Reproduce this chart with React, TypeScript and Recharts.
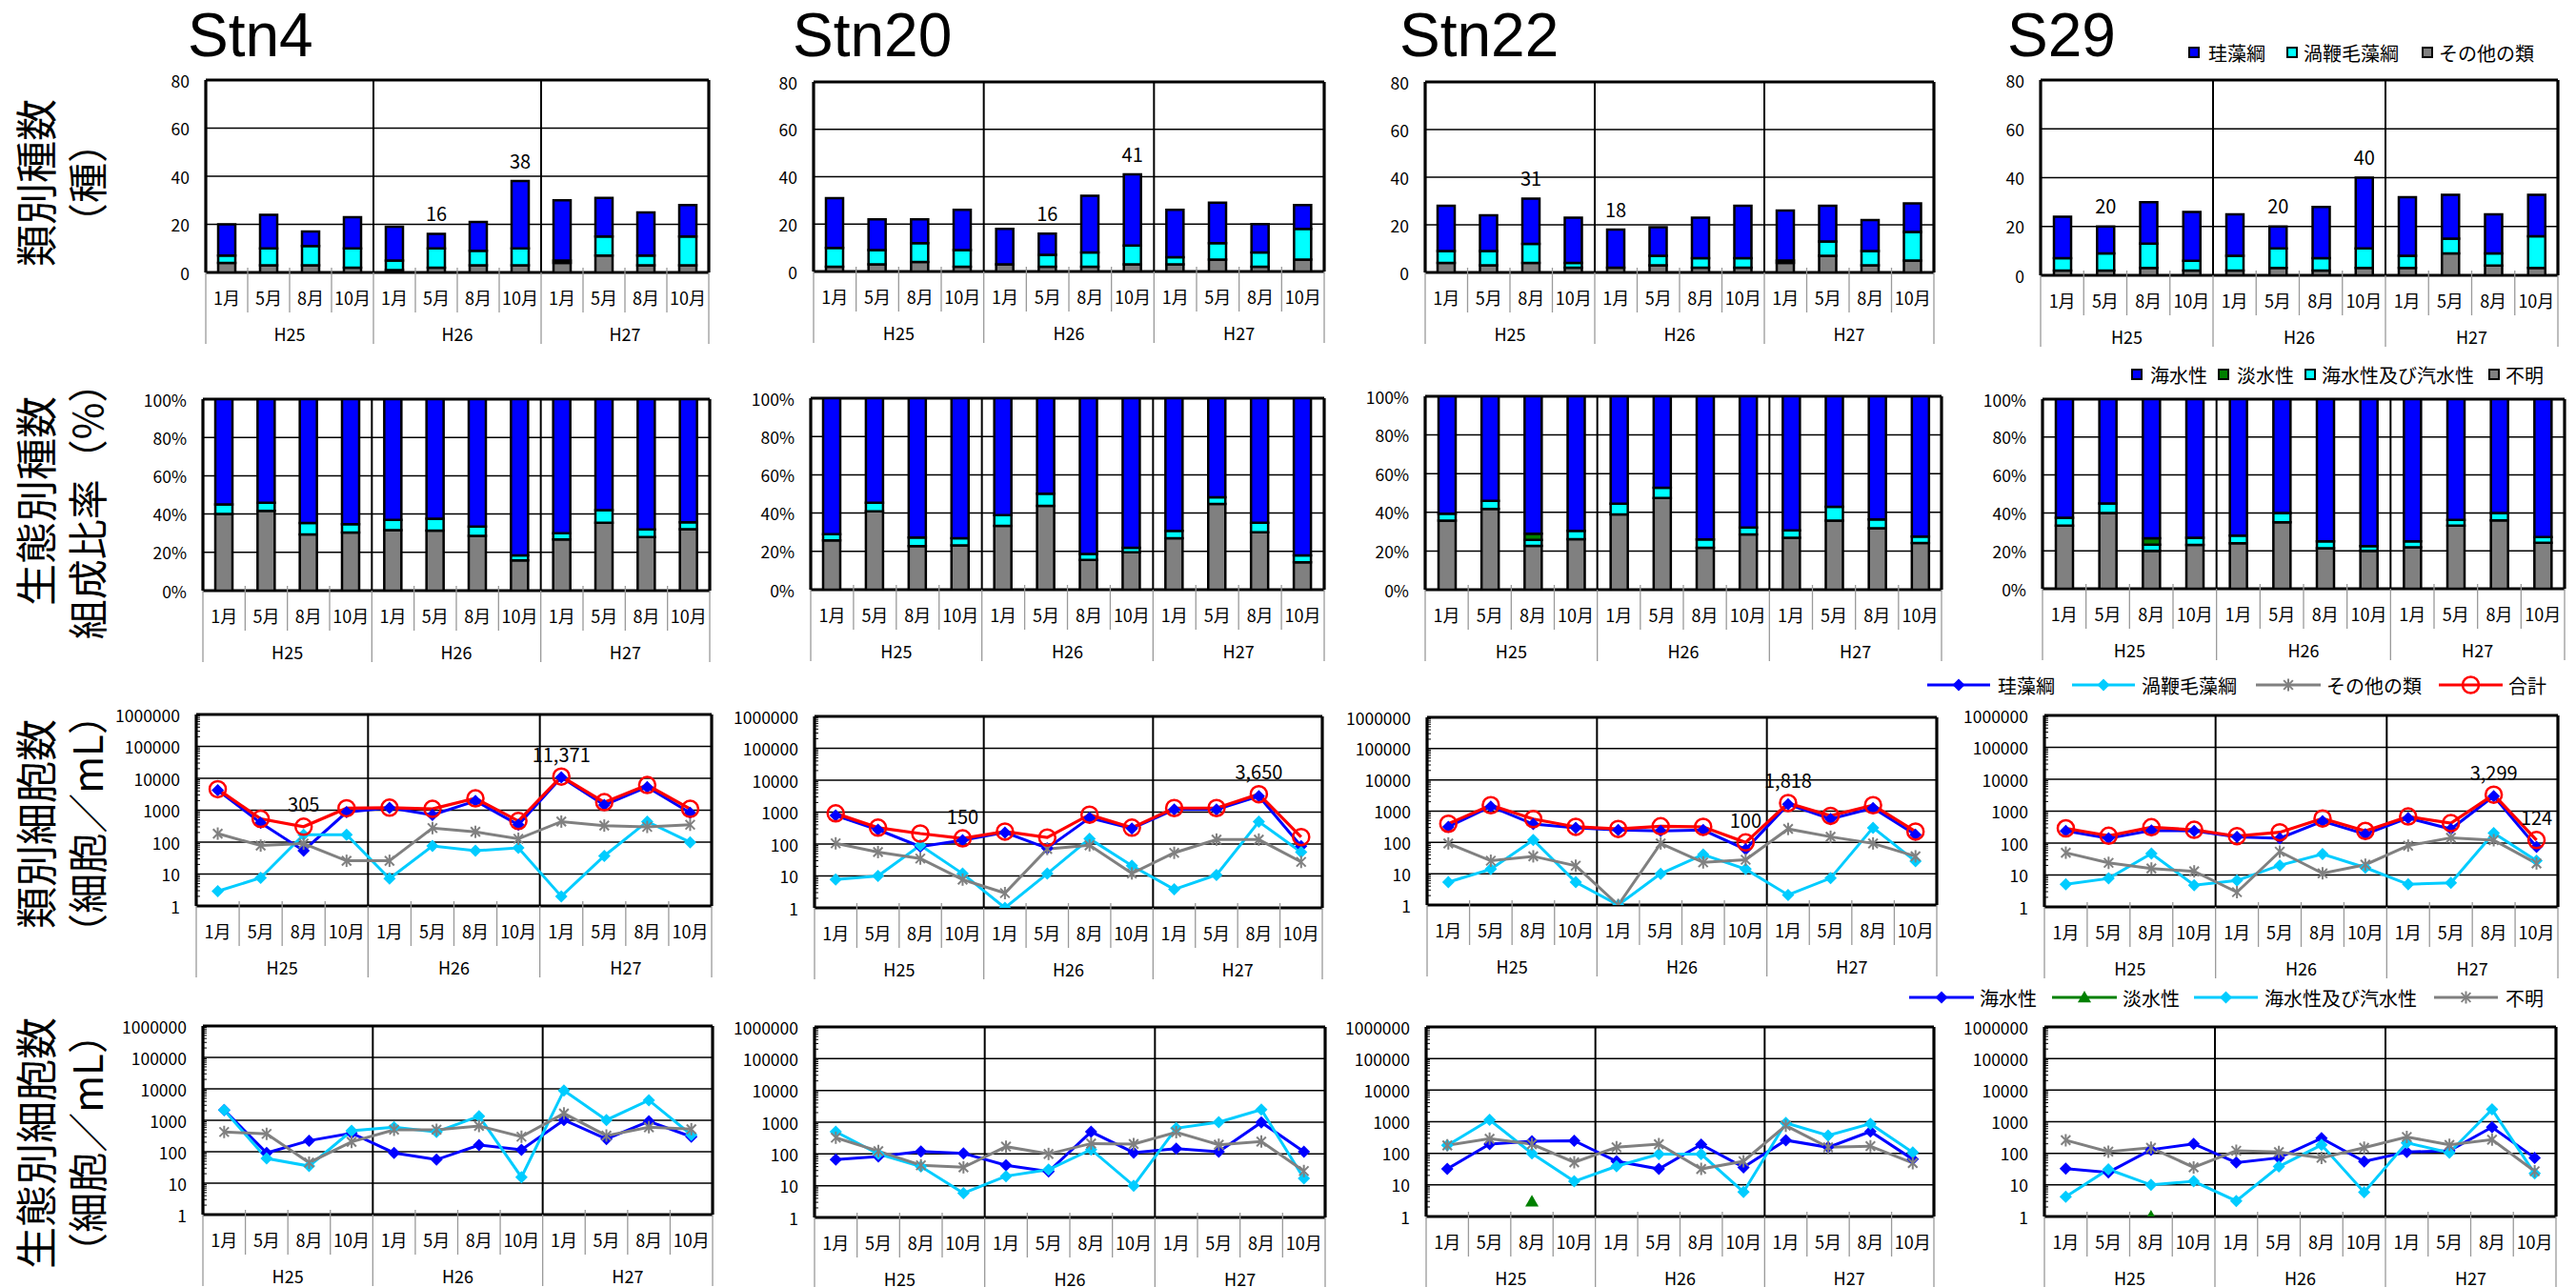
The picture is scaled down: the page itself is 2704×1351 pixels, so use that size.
import React from "react";
import { BarChart, Bar, LineChart, Line, XAxis, YAxis, CartesianGrid, LabelList } from "recharts";

// ---------------- categories & names ----------------
const MONTHS = ["1月", "5月", "8月", "10月"];
const YEARS = ["H25", "H26", "H27"];
const STATION_NAMES = ["Stn4", "Stn20", "Stn22", "S29"];
const SP_NAMES = ["珪藻綱", "渦鞭毛藻綱", "その他の類"];
const ECO_NAMES = ["海水性", "淡水性", "海水性及び汽水性", "不明"];
const CELL_NAMES = ["珪藻綱", "渦鞭毛藻綱", "その他の類", "合計"];
const ROW_TITLES = [
  ["類別種数", "（種）"],
  ["生態別種数", "組成比率（%）"],
  ["類別細胞数", "（細胞／mL）"],
  ["生態別細胞数", "（細胞／mL）"],
];
const SP_TICKS = [0, 20, 40, 60, 80];
const PC_TICKS = [0, 0.2, 0.4, 0.6, 0.8, 1];
const LOG_TICKS = [1, 10, 100, 1000, 10000, 100000, 1000000];

// ---------------- row 1: species counts (種) ----------------
const stn4SpDia = [13, 14, 6, 13, 14, 6, 12, 28, 25, 16, 18, 13];
const stn4SpDin = [3, 7, 8, 8, 4, 8, 6, 7, 1, 8, 4, 12];
const stn4SpOth = [4, 3, 3, 2, 1, 2, 3, 3, 4, 7, 3, 3];
const stn20SpDia = [21, 13, 10, 17, 15, 9, 24, 30, 20, 17, 12, 10];
const stn20SpDin = [8, 6, 8, 7, 0, 5, 6, 8, 3, 7, 6, 13];
const stn20SpOth = [2, 3, 4, 2, 3, 2, 2, 3, 3, 5, 2, 5];
const stn22SpDia = [19, 15, 19, 19, 16, 12, 17, 22, 21, 15, 13, 12];
const stn22SpDin = [5, 6, 8, 2, 0, 4, 4, 4, 1, 6, 6, 12];
const stn22SpOth = [4, 3, 4, 2, 2, 3, 2, 2, 4, 7, 3, 5];
const s29SpDia = [17, 11, 17, 20, 17, 9, 21, 29, 24, 18, 16, 17];
const s29SpDin = [5, 7, 10, 4, 6, 8, 5, 8, 5, 6, 5, 13];
const s29SpOth = [2, 2, 3, 2, 2, 3, 2, 3, 3, 9, 4, 3];
const stn4SpLabels = [5, 7];
const stn20SpLabels = [5, 7];
const stn22SpLabels = [2, 4];
const s29SpLabels = [1, 5, 7];

// ---------------- row 2: ecological composition (%) ----------------
const stn4PcMar = [55, 54.1, 64.7, 65.3, 63.1, 62.4, 66.6, 81.6, 70, 58, 68, 64.3];
const stn4PcFre = [0, 0, 0, 0, 0, 0, 0, 0, 0, 0, 0, 0];
const stn4PcBra = [5, 4.2, 5.9, 4.3, 5.3, 6.3, 4.8, 2.6, 3.3, 6.5, 4, 3.6];
const stn4PcUnk = [40, 41.7, 29.4, 30.4, 31.6, 31.3, 28.6, 15.8, 26.7, 35.5, 28, 32.1];
const stn20PcMar = [71, 54.6, 72.8, 73.1, 61.1, 49.9, 81.3, 78.1, 69.3, 51.8, 65, 82.1];
const stn20PcFre = [0, 0, 0, 0, 0, 0, 0, 0, 0, 0, 0, 0];
const stn20PcBra = [3.2, 4.5, 4.5, 3.8, 5.6, 6.3, 3.1, 2.4, 3.8, 3.4, 5, 3.6];
const stn20PcUnk = [25.8, 40.9, 22.7, 23.1, 33.3, 43.8, 15.6, 19.5, 26.9, 44.8, 30, 14.3];
const stn22PcMar = [60.7, 54.1, 71, 69.6, 55.5, 47.3, 74, 67.8, 69.3, 57.2, 63.7, 72.5];
const stn22PcFre = [0, 0, 3.2, 0, 0, 0, 0, 0, 0, 0, 0, 0];
const stn22PcBra = [3.6, 4.2, 3.2, 4.3, 5.6, 5.3, 4.3, 3.6, 3.8, 7.1, 4.5, 3.4];
const stn22PcUnk = [35.7, 41.7, 22.6, 26.1, 38.9, 47.4, 21.7, 28.6, 26.9, 35.7, 31.8, 24.1];
const s29PcMar = [62.5, 55, 73.4, 73.1, 72, 60, 75, 77.5, 75, 63.7, 60, 72.8];
const s29PcFre = [0, 0, 3.3, 0, 0, 0, 0, 0, 0, 0, 0, 0];
const s29PcBra = [4.2, 5, 3.3, 3.8, 4, 5, 3.6, 2.5, 3.1, 3, 4, 3];
const s29PcUnk = [33.3, 40, 20, 23.1, 24, 35, 21.4, 20, 21.9, 33.3, 36, 24.2];

// ---------------- row 3: cells by class (細胞/mL) ----------------
const stn4CellDia = [4200, 400, 54, 870, 1190, 710, 1950, 350, 10800, 1450, 5300, 830];
const stn4CellDin = [2.9, 7.6, 170, 170, 7.2, 76, 54, 66, 2.0, 37, 440, 99];
const stn4CellOth = [185, 78, 90, 26, 26, 275, 210, 127, 440, 330, 300, 350];
const stn4CellTot = [4570, 535, 305, 1150, 1200, 1100, 2350, 460, 11371, 1780, 6150, 1100];
const stn20CellDia = [780, 280, 83, 131, 230, 74, 660, 308, 1200, 1200, 3150, 86];
const stn20CellDin = [7.7, 10, 91, 11.8, 1, 11.8, 147, 21, 3.8, 10.8, 500, 56];
const stn20CellOth = [105, 56, 35, 7.7, 2.9, 70, 91, 12, 53, 138, 138, 27.5];
const stn20CellTot = [910, 325, 213, 150, 245, 160, 830, 325, 1340, 1340, 3650, 165];
const stn22CellDia = [315, 1400, 385, 295, 250, 235, 250, 60, 1650, 560, 1260, 175];
const stn22CellDin = [5.4, 14, 120, 5.4, 1, 10, 41, 14, 2.1, 7.2, 295, 25];
const stn22CellOth = [93, 26, 36, 18, 1, 93, 23, 28, 270, 152, 93, 36];
const stn22CellTot = [395, 1550, 560, 315, 270, 330, 315, 100, 1818, 710, 1550, 222];
const s29CellDia = [240, 142, 250, 240, 155, 142, 485, 190, 610, 275, 2930, 76];
const s29CellDin = [5.1, 7.8, 47, 4.8, 6.7, 20, 45, 17, 5.1, 5.7, 205, 28];
const s29CellOth = [50, 24, 16, 13, 2.9, 54, 11.3, 21, 83, 147, 123, 23];
const s29CellTot = [290, 170, 315, 260, 165, 218, 590, 240, 680, 420, 3299, 124];
const stn4CellLabels = [2, 8];
const stn20CellLabels = [3, 10];
const stn22CellLabels = [7, 8];
const s29CellLabels = [10, 11];

// ---------------- row 4: cells by ecology (細胞/mL) ----------------
const N = null;
const stn4EcoMar = [2100, 92, 225, 390, 92, 56, 163, 115, 1020, 253, 930, 300];
const stn4EcoFre = [N, N, N, N, N, N, N, N, N, N, N, N];
const stn4EcoBra = [2100, 61, 35, 465, 600, 425, 1350, 15.5, 8900, 1020, 4350, 345];
const stn4EcoUnk = [425, 370, 45, 206, 500, 500, 660, 300, 1650, 325, 600, 520];
const stn20EcoMar = [66, 83, 120, 104, 44, 28, 500, 110, 146, 117, 990, 117];
const stn20EcoFre = [N, N, N, N, N, N, N, N, N, N, N, N];
const stn20EcoBra = [500, 100, 40, 5.8, 20, 32, 138, 10, 645, 1000, 2500, 17];
const stn20EcoUnk = [325, 123, 44, 38, 170, 100, 213, 205, 485, 195, 245, 29];
const stn22EcoMar = [32, 195, 240, 250, 56, 32, 190, 36, 260, 155, 490, 65];
const stn22EcoFre = [N, N, 3, N, N, N, N, N, N, N, N, N];
const stn22EcoBra = [178, 1150, 100, 13, 39, 94, 94, 6, 920, 365, 860, 106];
const stn22EcoUnk = [178, 290, 195, 52, 155, 195, 32, 56, 750, 155, 168, 49];
const s29EcoMar = [33, 25, 130, 200, 51, 72, 300, 55, 110, 120, 670, 72];
const s29EcoFre = [N, N, 1, N, N, N, N, N, N, N, N, N];
const s29EcoBra = [4.2, 31, 10, 13, 3.1, 38, 185, 5.9, 215, 105, 2450, 23];
const s29EcoUnk = [260, 113, 150, 36, 120, 110, 72, 150, 330, 185, 270, 27];

// ---------------- tables built from the arrays ----------------
const CATS = YEARS.flatMap((y) => MONTHS.map((m) => `${y}-${m}`));
const STATIONS = [
  { sp: [stn4SpOth, stn4SpDin, stn4SpDia], spL: stn4SpLabels, pc: [stn4PcUnk, stn4PcBra, stn4PcFre, stn4PcMar], cell: [stn4CellDia, stn4CellDin, stn4CellOth, stn4CellTot], cellL: stn4CellLabels, eco: [stn4EcoMar, stn4EcoFre, stn4EcoBra, stn4EcoUnk] },
  { sp: [stn20SpOth, stn20SpDin, stn20SpDia], spL: stn20SpLabels, pc: [stn20PcUnk, stn20PcBra, stn20PcFre, stn20PcMar], cell: [stn20CellDia, stn20CellDin, stn20CellOth, stn20CellTot], cellL: stn20CellLabels, eco: [stn20EcoMar, stn20EcoFre, stn20EcoBra, stn20EcoUnk] },
  { sp: [stn22SpOth, stn22SpDin, stn22SpDia], spL: stn22SpLabels, pc: [stn22PcUnk, stn22PcBra, stn22PcFre, stn22PcMar], cell: [stn22CellDia, stn22CellDin, stn22CellOth, stn22CellTot], cellL: stn22CellLabels, eco: [stn22EcoMar, stn22EcoFre, stn22EcoBra, stn22EcoUnk] },
  { sp: [s29SpOth, s29SpDin, s29SpDia], spL: s29SpLabels, pc: [s29PcUnk, s29PcBra, s29PcFre, s29PcMar], cell: [s29CellDia, s29CellDin, s29CellOth, s29CellTot], cellL: s29CellLabels, eco: [s29EcoMar, s29EcoFre, s29EcoBra, s29EcoUnk] },
];

// ---------------- styles & layout ----------------
const FONT = "'Noto Sans CJK JP', 'Noto Sans', sans-serif";
const TITLE_FONT = "'Liberation Sans', Arial, sans-serif";
const C_BLUE = "#0000FF";
const C_CYAN = "#00FFFF";
const C_SKY = "#00CCFF";
const C_GRAY = "#808080";
const C_GREEN = "#008000";
const C_RED = "#FF0000";
const YW = 100, MT = 22, MR = 16, XH = 86;

type Rect = [number, number, number, number];
const GEO: Rect[][] = [
  [[216, 84, 744, 286], [854, 86, 1390, 285], [1496, 86, 2030, 286], [2142, 84, 2685, 289]],
  [[213, 419, 745, 620], [851, 418, 1390, 619], [1496, 416, 2038, 619], [2144, 419, 2692, 618]],
  [[206, 750, 747, 951], [855, 752, 1388, 953], [1498, 753, 2033, 950], [2146, 751, 2685, 952]],
  [[213, 1077, 748, 1275], [855, 1078, 1391, 1278], [1497, 1078, 2030, 1277], [2146, 1078, 2683, 1277]],
];
const TITLE_X = [197, 832, 1469, 2107];

function box(r: Rect) {
  const [x0, y0, x1, y1] = r;
  const pw = x1 - x0, ph = y1 - y0;
  return {
    pw, ph,
    style: { position: "absolute" as const, left: x0 - YW, top: y0 - MT },
    width: pw + YW + MR,
    height: ph + MT + XH,
  };
}

function makeTick(pw: number, ph: number) {
  const bw = pw / 12;
  const pb = MT + ph;
  return (p: any) => {
    const i: number = p.index ?? p.payload?.index ?? 0;
    const x: number = p.x;
    const lx = x - bw / 2, rx = x + bw / 2;
    const [yr, mo] = String(p.payload?.value ?? "").split("-");
    const sep = "#9a9a9a";
    return (
      <g key={`tk${i}`}>
        <text x={x} y={pb + 26} textAnchor="middle" dominantBaseline="central" fontSize={18} fontFamily={FONT} fill="#000">{mo}</text>
        {i % 4 === 0
          ? <line x1={lx} x2={lx} y1={pb} y2={pb + 75} stroke={sep} strokeWidth={1.3} />
          : <line x1={lx} x2={lx} y1={pb - 5} y2={pb + 42} stroke={sep} strokeWidth={1.3} />}
        {i === 11 && <line x1={rx} x2={rx} y1={pb} y2={pb + 75} stroke={sep} strokeWidth={1.3} />}
        {i % 4 === 1 && <text x={rx} y={pb + 64} textAnchor="middle" dominantBaseline="central" fontSize={18} fontFamily={FONT} fill="#000">{yr}</text>}
      </g>
    );
  };
}

function makeYTick(fmt: (v: number) => string, minorDecade?: number) {
  return (p: any) => {
    const v = Number(p.payload?.value);
    const y = Number(p.y);
    const minors = minorDecade && v < 1000000 ? [2, 3, 4, 5, 6, 7, 8, 9].map((k) => y - Math.log10(k) * minorDecade) : [];
    return (
      <g key={`yt${v}`}>
        <text x={YW - 17} y={y} textAnchor="end" dominantBaseline="central" fontSize={17.5} fontFamily={FONT} fill="#000">{fmt(v)}</text>
        {minors.map((my, j) => (
          <line key={j} x1={YW} x2={YW + 4} y1={my} y2={my} stroke="#000" strokeWidth={1} />
        ))}
      </g>
    );
  };
}

function gridParts(pw: number, ph: number) {
  return [
    <CartesianGrid key="gh" vertical={false} stroke="#000" strokeWidth={1.5} />,
    <CartesianGrid key="gv" horizontal={false} stroke="#000" strokeWidth={2} verticalPoints={[YW + pw / 3, YW + (2 * pw) / 3]} />,
    <CartesianGrid key="gb" stroke="#000" strokeWidth={3.2} verticalPoints={[YW, YW + pw]} horizontalPoints={[MT, MT + ph]} />,
  ];
}

// ---------------- markers ----------------
function bad(p: any) {
  return p.cx == null || p.cy == null || isNaN(p.cx) || isNaN(p.cy) || p.value == null;
}
const diamondDot = (color: string, r = 6.5) => (p: any) => {
  const k = `d${p.index}`;
  if (bad(p)) return <g key={k} />;
  const { cx, cy } = p;
  return <path key={k} d={`M${cx},${cy - r}L${cx + r},${cy}L${cx},${cy + r}L${cx - r},${cy}Z`} fill={color} />;
};
const starDot = (color: string, r = 6.5) => (p: any) => {
  const k = `s${p.index}`;
  if (bad(p)) return <g key={k} />;
  const { cx, cy } = p;
  const d = r * 0.75;
  return (
    <g key={k} stroke={color} strokeWidth={2}>
      <line x1={cx} y1={cy - r} x2={cx} y2={cy + r} />
      <line x1={cx - d} y1={cy - d} x2={cx + d} y2={cy + d} />
      <line x1={cx - d} y1={cy + d} x2={cx + d} y2={cy - d} />
    </g>
  );
};
const circleDot = (color: string, r = 8.5) => (p: any) => {
  const k = `c${p.index}`;
  if (bad(p)) return <g key={k} />;
  return <circle key={k} cx={p.cx} cy={p.cy} r={r} fill="none" stroke={color} strokeWidth={2.5} />;
};
const triDot = (color: string, r = 7) => (p: any) => {
  const k = `t${p.index}`;
  if (bad(p)) return <g key={k} />;
  const { cx, cy } = p;
  return <path key={k} d={`M${cx},${cy - r}L${cx + r},${cy + r * 0.75}L${cx - r},${cy + r * 0.75}Z`} fill={color} />;
};

// ---------------- panels ----------------
function SpeciesPanel({ r, st }: { r: Rect; st: any }) {
  const { pw, ph, style, width, height } = box(r);
  const [oth, din, dia] = st.sp;
  const data = CATS.map((c, i) => ({ c, oth: oth[i], din: din[i], dia: dia[i] }));
  return (
    <div style={style}>
      <BarChart width={width} height={height} data={data} margin={{ top: MT, right: MR, bottom: 0, left: 0 }} barSize={18}>
        {gridParts(pw, ph)}
        <XAxis dataKey="c" interval={0} height={XH} tickLine={false} axisLine={false} tick={makeTick(pw, ph)} />
        <YAxis width={YW} domain={[0, 80]} ticks={SP_TICKS} tickLine={false} axisLine={false} tick={makeYTick((v) => String(v))} allowDataOverflow />
        <Bar dataKey="oth" stackId="a" fill={C_GRAY} stroke="#000" strokeWidth={2.5} isAnimationActive={false} />
        <Bar dataKey="din" stackId="a" fill={C_CYAN} stroke="#000" strokeWidth={2.5} isAnimationActive={false} />
        <Bar dataKey="dia" stackId="a" fill={C_BLUE} stroke="#000" strokeWidth={2.5} isAnimationActive={false}>
          <LabelList
            dataKey="dia"
            content={(p: any) => {
              const i = p.index;
              if (i == null || !st.spL.includes(i)) return null;
              const total = oth[i] + din[i] + dia[i];
              return (
                <text key={`sl${i}`} x={Number(p.x) + Number(p.width) / 2} y={Number(p.y) - 22} textAnchor="middle" dominantBaseline="central" fontSize={20} fontFamily={FONT} fill="#000">
                  {total}
                </text>
              );
            }}
          />
        </Bar>
      </BarChart>
    </div>
  );
}

function PercentPanel({ r, st }: { r: Rect; st: any }) {
  const { pw, ph, style, width, height } = box(r);
  const [unk, bra, fre, mar] = st.pc;
  const data = CATS.map((c, i) => ({ c, unk: unk[i], bra: bra[i], fre: fre[i], mar: mar[i] }));
  return (
    <div style={style}>
      <BarChart width={width} height={height} data={data} stackOffset="expand" margin={{ top: MT, right: MR, bottom: 0, left: 0 }} barSize={18}>
        {gridParts(pw, ph)}
        <XAxis dataKey="c" interval={0} height={XH} tickLine={false} axisLine={false} tick={makeTick(pw, ph)} />
        <YAxis width={YW} domain={[0, 1]} ticks={PC_TICKS} tickLine={false} axisLine={false} tick={makeYTick((v) => `${Math.round(v * 100)}%`)} allowDataOverflow />
        <Bar dataKey="unk" stackId="a" fill={C_GRAY} stroke="#000" strokeWidth={2.5} isAnimationActive={false} />
        <Bar dataKey="bra" stackId="a" fill={C_CYAN} stroke="#000" strokeWidth={2.5} isAnimationActive={false} />
        <Bar dataKey="fre" stackId="a" fill={C_GREEN} stroke="#000" strokeWidth={2.5} isAnimationActive={false} />
        <Bar dataKey="mar" stackId="a" fill={C_BLUE} stroke="#000" strokeWidth={2.5} isAnimationActive={false} />
      </BarChart>
    </div>
  );
}

function CellPanel({ r, st }: { r: Rect; st: any }) {
  const { pw, ph, style, width, height } = box(r);
  const [dia, din, oth, tot] = st.cell;
  const data = CATS.map((c, i) => ({ c, dia: dia[i], din: din[i], oth: oth[i], tot: tot[i] }));
  const pad = pw / 24;
  return (
    <div style={style}>
      <LineChart width={width} height={height} data={data} margin={{ top: MT, right: MR, bottom: 0, left: 0 }}>
        {gridParts(pw, ph)}
        <XAxis dataKey="c" interval={0} height={XH} tickLine={false} axisLine={false} padding={{ left: pad, right: pad }} tick={makeTick(pw, ph)} />
        <YAxis width={YW} scale="log" domain={[1, 1000000]} ticks={LOG_TICKS} tickLine={false} axisLine={false} tick={makeYTick((v) => String(v), ph / 6)} allowDataOverflow />
        <Line type="linear" dataKey="dia" stroke={C_BLUE} strokeWidth={3} dot={diamondDot(C_BLUE)} isAnimationActive={false} />
        <Line type="linear" dataKey="din" stroke={C_SKY} strokeWidth={3} dot={diamondDot(C_SKY)} isAnimationActive={false} />
        <Line type="linear" dataKey="oth" stroke={C_GRAY} strokeWidth={3} dot={starDot(C_GRAY)} isAnimationActive={false} />
        <Line type="linear" dataKey="tot" stroke={C_RED} strokeWidth={3.2} dot={circleDot(C_RED)} isAnimationActive={false}>
          <LabelList
            dataKey="tot"
            content={(p: any) => {
              const i = p.index;
              if (i == null || !st.cellL.includes(i)) return null;
              return (
                <text key={`cl${i}`} x={Number(p.x)} y={Number(p.y) - 24} textAnchor="middle" dominantBaseline="central" fontSize={20} fontFamily={FONT} fill="#000">
                  {tot[i].toLocaleString("en-US")}
                </text>
              );
            }}
          />
        </Line>
      </LineChart>
    </div>
  );
}

function EcoPanel({ r, st }: { r: Rect; st: any }) {
  const { pw, ph, style, width, height } = box(r);
  const [mar, fre, bra, unk] = st.eco;
  const data = CATS.map((c, i) => ({ c, mar: mar[i], fre: fre[i], bra: bra[i], unk: unk[i] }));
  const pad = pw / 24;
  return (
    <div style={style}>
      <LineChart width={width} height={height} data={data} margin={{ top: MT, right: MR, bottom: 0, left: 0 }}>
        {gridParts(pw, ph)}
        <XAxis dataKey="c" interval={0} height={XH} tickLine={false} axisLine={false} padding={{ left: pad, right: pad }} tick={makeTick(pw, ph)} />
        <YAxis width={YW} scale="log" domain={[1, 1000000]} ticks={LOG_TICKS} tickLine={false} axisLine={false} tick={makeYTick((v) => String(v), ph / 6)} allowDataOverflow />
        <Line type="linear" dataKey="mar" stroke={C_BLUE} strokeWidth={3} dot={diamondDot(C_BLUE)} isAnimationActive={false} />
        <Line type="linear" dataKey="fre" stroke={C_GREEN} strokeWidth={3} dot={triDot(C_GREEN)} isAnimationActive={false} />
        <Line type="linear" dataKey="bra" stroke={C_SKY} strokeWidth={3} dot={diamondDot(C_SKY)} isAnimationActive={false} />
        <Line type="linear" dataKey="unk" stroke={C_GRAY} strokeWidth={3} dot={starDot(C_GRAY)} isAnimationActive={false} />
      </LineChart>
    </div>
  );
}

// ---------------- overlay: titles, legends, row labels ----------------
const SQ_LEG1 = [{ sx: 2298, tx: 2318 }, { sx: 2401, tx: 2418 }, { sx: 2543, tx: 2560 }];
const SQ_LEG2 = [{ sx: 2238, tx: 2257 }, { sx: 2329, tx: 2348 }, { sx: 2420, tx: 2437 }, { sx: 2613, tx: 2630 }];
const LN_LEG3 = [{ a: 2023, b: 2089, tx: 2097 }, { a: 2175, b: 2241, tx: 2248 }, { a: 2368, b: 2436, tx: 2442 }, { a: 2560, b: 2627, tx: 2633 }];
const LN_LEG4 = [{ a: 2004, b: 2072, tx: 2078 }, { a: 2154, b: 2222, tx: 2228 }, { a: 2303, b: 2370, tx: 2377 }, { a: 2555, b: 2622, tx: 2630 }];
const LEG_Y = [55, 393, 719, 1047];
const ROW_LABEL_Y = [192, 526, 865, 1200];

function Overlay() {
  const sqColors1 = [C_BLUE, C_CYAN, C_GRAY];
  const sqColors2 = [C_BLUE, C_GREEN, C_CYAN, C_GRAY];
  const ln3 = [
    { c: C_BLUE, m: diamondDot(C_BLUE) },
    { c: C_SKY, m: diamondDot(C_SKY) },
    { c: C_GRAY, m: starDot(C_GRAY) },
    { c: C_RED, m: circleDot(C_RED) },
  ];
  const ln4 = [
    { c: C_BLUE, m: diamondDot(C_BLUE) },
    { c: C_GREEN, m: triDot(C_GREEN) },
    { c: C_SKY, m: diamondDot(C_SKY) },
    { c: C_GRAY, m: starDot(C_GRAY) },
  ];
  const legText = (x: number, y: number, s: string, k: string) => (
    <text key={k} x={x} y={y} dominantBaseline="central" fontSize={20} fontFamily={FONT} fill="#000">{s}</text>
  );
  return (
    <svg width={2704} height={1351} style={{ position: "absolute", left: 0, top: 0, pointerEvents: "none" }}>
      {STATION_NAMES.map((s, i) => (
        <text key={s} x={TITLE_X[i]} y={59} fontSize={64} fontFamily={TITLE_FONT} fill="#000">{s}</text>
      ))}
      {ROW_TITLES.map((t, i) => (
        <g key={`rt${i}`}>
          <text transform={`translate(36,${ROW_LABEL_Y[i]}) rotate(-90)`} textAnchor="middle" dominantBaseline="central" fontSize={44} fontFamily={FONT} fill="#000">{t[0]}</text>
          <text transform={`translate(89,${ROW_LABEL_Y[i]}) rotate(-90)`} textAnchor="middle" dominantBaseline="central" fontSize={42} fontFamily={FONT} fill="#000">{t[1]}</text>
        </g>
      ))}
      {SQ_LEG1.map((p, i) => (
        <g key={`l1${i}`}>
          <rect x={p.sx} y={LEG_Y[0] - 5} width={10} height={10} fill={sqColors1[i]} stroke="#000" strokeWidth={2} />
          {legText(p.tx, LEG_Y[0], SP_NAMES[i], `l1t${i}`)}
        </g>
      ))}
      {SQ_LEG2.map((p, i) => (
        <g key={`l2${i}`}>
          <rect x={p.sx} y={LEG_Y[1] - 5} width={10} height={10} fill={sqColors2[i]} stroke="#000" strokeWidth={2} />
          {legText(p.tx, LEG_Y[1], ECO_NAMES[i], `l2t${i}`)}
        </g>
      ))}
      {LN_LEG3.map((p, i) => (
        <g key={`l3${i}`}>
          <line x1={p.a} x2={p.b} y1={LEG_Y[2]} y2={LEG_Y[2]} stroke={ln3[i].c} strokeWidth={3} />
          {ln3[i].m({ cx: (p.a + p.b) / 2, cy: LEG_Y[2], value: 1, index: 100 + i })}
          {legText(p.tx, LEG_Y[2], CELL_NAMES[i], `l3t${i}`)}
        </g>
      ))}
      {LN_LEG4.map((p, i) => (
        <g key={`l4${i}`}>
          <line x1={p.a} x2={p.b} y1={LEG_Y[3]} y2={LEG_Y[3]} stroke={ln4[i].c} strokeWidth={3} />
          {ln4[i].m({ cx: (p.a + p.b) / 2, cy: LEG_Y[3], value: 1, index: 200 + i })}
          {legText(p.tx, LEG_Y[3], ECO_NAMES[i], `l4t${i}`)}
        </g>
      ))}
    </svg>
  );
}

export default function App() {
  return (
    <div style={{ position: "absolute", left: 0, top: 0, width: 2704, height: 1351, background: "#fff", fontFamily: FONT, overflow: "hidden" }}>
      {STATIONS.map((st, c) => (
        <React.Fragment key={`st${c}`}>
          <SpeciesPanel r={GEO[0][c]} st={st} />
          <PercentPanel r={GEO[1][c]} st={st} />
          <CellPanel r={GEO[2][c]} st={st} />
          <EcoPanel r={GEO[3][c]} st={st} />
        </React.Fragment>
      ))}
      <Overlay />
    </div>
  );
}
